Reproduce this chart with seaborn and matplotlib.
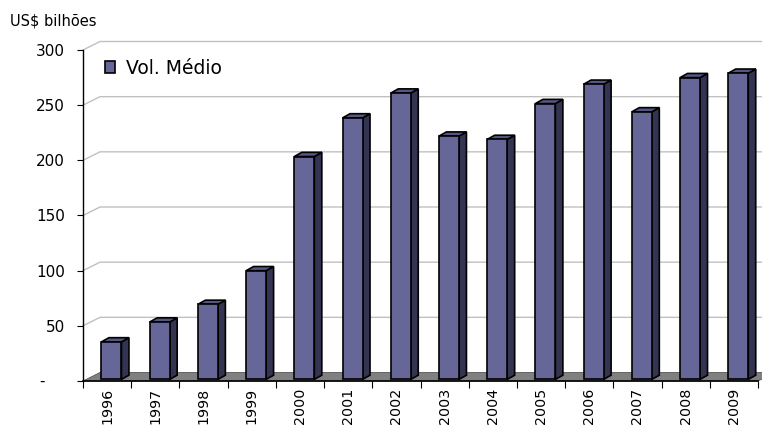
import matplotlib
matplotlib.use("Agg")
import matplotlib.pyplot as plt
from matplotlib.patches import Polygon
import numpy as np
import pandas as pd
import seaborn as sns

# Average volume per year (US$ billions)
years = ["1996", "1997", "1998", "1999", "2000", "2001", "2002",
         "2003", "2004", "2005", "2006", "2007", "2008", "2009"]
vol_medio = [34, 52, 68, 98.5, 202, 237, 259.5,
             220.5, 217.5, 250, 267.5, 242.5, 273.5, 277.5]
y_ticks = [0, 50, 100, 150, 200, 250, 300]
y_tick_labels = ["-", "50", "100", "150", "200", "250", "300"]
series_name = "Vol. Médio"
unit_label = "US$ bilhões"

# Colours of the pseudo-3D columns and the floor
FRONT = "#666699"
SIDE = "#333352"
TOP = "#565684"
FLOOR = "#808080"
GRID = "#c0c0c0"

sns.set_style("white")
plt.rcParams["font.family"] = ["DejaVu Sans"]
plt.rcParams["text.color"] = "black"
plt.rcParams["xtick.color"] = "black"
plt.rcParams["ytick.color"] = "black"
plt.rcParams["axes.labelcolor"] = "black"

W, H = 762, 426
fig = plt.figure(figsize=(W / 100, H / 100), dpi=100)
ax_left, ax_bottom, ax_w, ax_h = 83, 45, 675, 331
ax = fig.add_axes([ax_left / W, ax_bottom / H, ax_w / W, ax_h / H])

n = len(years)
px_per_cat = ax_w / n
px_per_unit = ax_h / (y_ticks[-1] - y_ticks[0])

# Perspective offsets (in data units)
FLOOR_DX = 17 / px_per_cat
FLOOR_DY = 8.5 / px_per_unit
BAR_DX = 7.5 / px_per_cat
BAR_DY = 4.2 / px_per_unit
BAR_SHIFT = 0.09
BAR_LIFT = 1.6 / px_per_unit

df = pd.DataFrame({"ano": years, "vol": vol_medio})
sns.barplot(data=df, x="ano", y="vol", color=FRONT, saturation=1,
            width=0.415, edgecolor="black", linewidth=1.2,
            label=series_name, ax=ax, zorder=3)
bars = list(ax.patches)

ax.set_xlim(-0.5, n - 0.5)
ax.set_ylim(y_ticks[0], y_ticks[-1])

# Back-wall gridlines with a short receding segment at the left
for v in y_ticks[1:]:
    ax.plot([-0.5, -0.5 + FLOOR_DX, n - 0.5 + FLOOR_DX],
            [v, v + FLOOR_DY, v + FLOOR_DY],
            color=GRID, lw=1.0, clip_on=False, zorder=0)

# Floor
floor = Polygon([(-0.5, 0), (n - 0.5, 0),
                 (n - 0.5 + FLOOR_DX, FLOOR_DY), (-0.5 + FLOOR_DX, FLOOR_DY)],
                closed=True, facecolor=FLOOR, edgecolor="#555555",
                lw=0.6, clip_on=False, zorder=1)
ax.add_patch(floor)

# Give each column a side face and a top face
for p in bars:
    p.set_x(p.get_x() + BAR_SHIFT)
    p.set_y(BAR_LIFT)
    p.set_clip_on(False)
    x0 = p.get_x()
    x1 = x0 + p.get_width()
    b = BAR_LIFT
    t = BAR_LIFT + p.get_height()
    side = Polygon([(x1, b), (x1 + BAR_DX, b + BAR_DY),
                    (x1 + BAR_DX, t + BAR_DY), (x1, t)],
                   closed=True, facecolor=SIDE, edgecolor="black",
                   lw=1.2, zorder=2.9, clip_on=False)
    top = Polygon([(x0, t), (x1, t), (x1 + BAR_DX, t + BAR_DY),
                   (x0 + BAR_DX, t + BAR_DY)],
                  closed=True, facecolor=TOP, edgecolor="black",
                  lw=1.2, zorder=2.9, clip_on=False)
    ax.add_patch(side)
    ax.add_patch(top)

# Axes styling
for s in ["top", "right"]:
    ax.spines[s].set_visible(False)
ax.spines["left"].set_color("black")
ax.spines["left"].set_linewidth(1.0)
ax.spines["bottom"].set_color("black")
ax.spines["bottom"].set_linewidth(1.2)
ax.spines["bottom"].set_zorder(2)

ax.set_xlabel("")
ax.set_ylabel("")

ax.set_yticks(y_ticks)
ax.set_yticklabels([""] + y_tick_labels[1:])
ax.tick_params(axis="y", left=True, direction="out", length=4.5,
               width=0.8, color="black", pad=8.5, labelsize=11)
ax.annotate(y_tick_labels[0], xy=(0, y_ticks[0]),
            xycoords=("axes fraction", "data"), xytext=(-41.5, 0),
            textcoords="offset pixels", ha="center", va="center",
            fontsize=11)

ax.set_xticks(range(n))
ax.set_xticklabels(years, rotation=90)
ax.set_xticks(np.arange(-0.5, n, 1.0), minor=True)
ax.tick_params(axis="x", which="major", bottom=True, length=0,
               pad=5, labelsize=10.3)
ax.tick_params(axis="x", which="minor", bottom=True, direction="out",
               length=5, width=0.8, color="black")
ax.grid(False)

ax.legend(frameon=False, loc="upper left",
          bbox_to_anchor=(22 / ax_w, 1 - 9 / ax_h),
          borderaxespad=0, borderpad=0, handlelength=0.55,
          handleheight=0.6, handletextpad=0.55, fontsize=13.5)

fig.text(10 / W, 1 - 25 / H, unit_label, fontsize=10.5,
         ha="left", va="baseline")

fig.savefig("out.png", dpi=100)
